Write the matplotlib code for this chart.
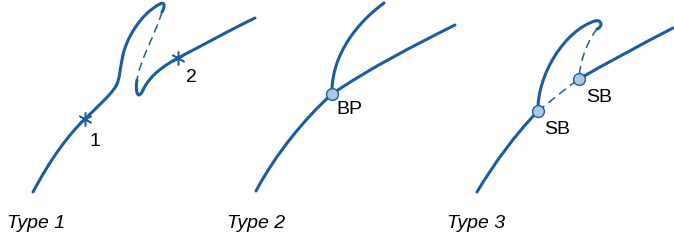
import matplotlib
matplotlib.use('Agg')
import matplotlib.pyplot as plt
from matplotlib.path import Path
from matplotlib.patches import PathPatch

plt.rcParams['font.family'] = ['Liberation Sans', 'DejaVu Sans']

BLUE = '#1b5e9f'
FILL = '#a9c9e5'

# cubic bezier pieces: start, ctrl1, ctrl2, end  (pixel coords, y down)
type1_solid = [
    [(33, 192), (50, 160), (68, 135), (85, 119)],
    [(85, 119), (97, 107), (110, 96), (116, 86)],
    [(116, 86), (120, 79), (120, 68), (123, 55)],
    [(123, 55), (126, 40), (140, 14), (160, 4)],
    [(160, 4), (165, 1), (165, 7), (162, 12)],
]
type1_dash = [[(162, 12), (155, 35), (140, 60), (137, 80)]]
type1_solid2 = [
    [(137, 80), (135, 92), (138, 101), (143, 90)],
    [(143, 90), (150, 75), (165, 65), (178, 58)],
    [(178, 58), (205, 44), (230, 30), (255, 18)],
]
type1_stars = [(85, 119), (178, 58)]
type1_labels = [('1', 95, 142), ('2', 191, 78)]

type2_solid = [
    [(256, 191), (275, 155), (305, 118), (332, 94)],
    [(332, 94), (370, 68), (415, 45), (455, 25)],
    [(332, 94), (331, 62), (350, 28), (384, 3)],
]
type2_points = [(332, 94)]
type2_labels = [('BP', 349, 110)]

type3_solid = [
    [(477, 192), (495, 162), (515, 135), (538, 111)],
    [(538, 111), (537, 75), (565, 30), (595, 21)],
    [(595, 21), (602, 19), (603, 27), (597, 29)],
    [(579, 79), (605, 64), (640, 45), (673, 28)],
]
type3_dash = [
    [(597, 29), (588, 40), (580, 60), (579, 79)],
    [(538, 111), (552, 100), (565, 89), (579, 79)],
]
type3_points = [(538, 111), (579, 79)]
type3_labels = [('SB', 557, 130), ('SB', 599, 98)]

titles = [('Type 1', 7), ('Type 2', 227), ('Type 3', 447)]


def draw(ax, pieces, lw, ls='-'):
    for p in pieces:
        path = Path(p, [Path.MOVETO, Path.CURVE4, Path.CURVE4, Path.CURVE4])
        ax.add_patch(PathPatch(path, fill=False, edgecolor=BLUE, lw=lw,
                               linestyle=ls, capstyle='round', joinstyle='round'))


fig = plt.figure(figsize=(6.74, 2.44), dpi=100)
ax = fig.add_axes([0, 0, 1, 1])
ax.set_xlim(0, 674)
ax.set_ylim(244, 0)
ax.axis('off')

draw(ax, type1_solid + type1_solid2 + type2_solid + type3_solid, 2.2)
draw(ax, type1_dash + type3_dash, 1.1, (0, (5, 4)))

for x, y in type1_stars:
    ax.plot(x, y, marker=(6, 2, 0), ms=10, mew=1.1, color=BLUE)
for x, y in type2_points + type3_points:
    ax.plot(x, y, 'o', ms=8.5, mfc=FILL, mec=BLUE, mew=1.0, zorder=5)

for t, x, y in type1_labels + type2_labels + type3_labels:
    ax.text(x, y, t, fontsize=14, ha='center', va='center')
for t, x in titles:
    ax.text(x, 223, t, fontsize=14, style='italic', ha='left', va='center')

fig.savefig('out.png', dpi=100)
